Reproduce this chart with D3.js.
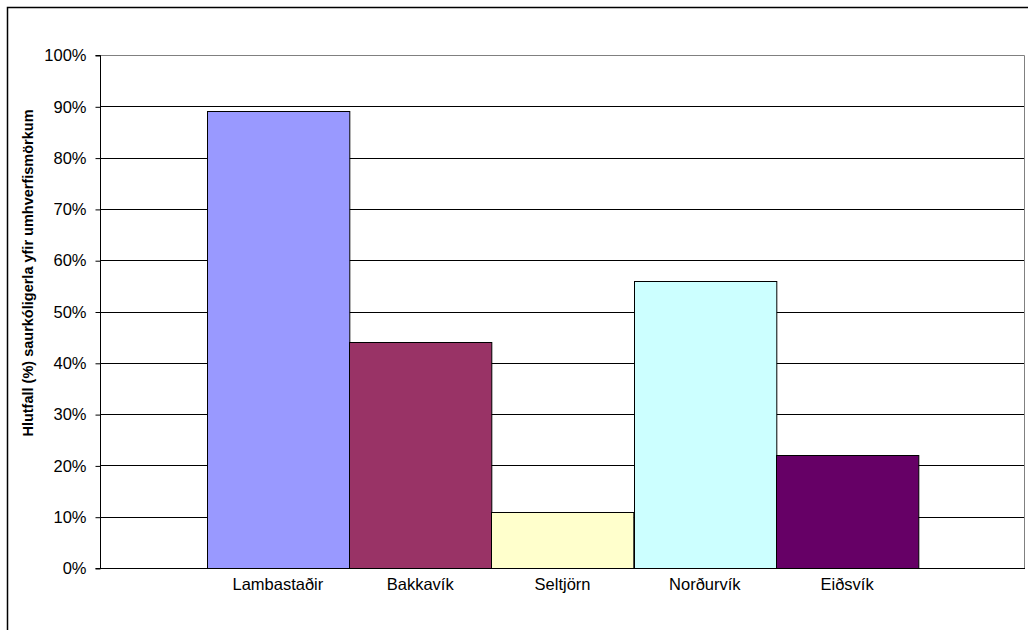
<!DOCTYPE html>
<html>
<head>
<meta charset="utf-8">
<script src="https://cdn.jsdelivr.net/npm/d3@7"></script>
<style>
  body { margin: 0; background: #fff; }
  svg { display: block; font-family: "Liberation Sans", Arial, sans-serif; }
</style>
</head>
<body>
<div id="chart"></div>
<script>
// stöðvar og hlutfall
const sites = ['Lambastaðir', 'Bakkavík', 'Seltjörn', 'Norðurvík', 'Eiðsvík'];
const values = [0.89, 0.44, 0.11, 0.56, 0.22];
const barColors = ['#9999FF', '#993366', '#FFFFCC', '#CCFFFF', '#660066'];
const yTicks = [0, 0.1, 0.2, 0.3, 0.4, 0.5, 0.6, 0.7, 0.8, 0.9, 1];
const yLabel = 'Hlutfall (%) saurkóligerla yfir umhverfismörkum';

const width = 1028, height = 630;
const margin = { top: 55, right: 3, bottom: 62, left: 100 };
const font = '"Liberation Sans", Arial, sans-serif';

const svg = d3.select('#chart').append('svg')
    .attr('width', width)
    .attr('height', height);

// ytri rammi
svg.append('rect')
    .attr('x', 7.5).attr('y', 7.5)
    .attr('width', width + 10).attr('height', height + 10)
    .attr('fill', 'none')
    .attr('stroke', '#000')
    .attr('stroke-width', 1.5);

const x = d3.scaleBand()
    .domain(sites)
    .range([margin.left, width - margin.right])
    .paddingInner(0)
    .paddingOuter(0.75);

const y = d3.scaleLinear()
    .domain([0, 1])
    .range([height - margin.bottom, margin.top]);

const x0 = margin.left, x1 = width - margin.right;

// gridlines
svg.append('g')
    .selectAll('line')
    .data(yTicks.filter(d => d > 0 && d < 1))
    .join('line')
    .attr('x1', x0).attr('x2', x1)
    .attr('y1', d => Math.round(y(d)) + 0.5)
    .attr('y2', d => Math.round(y(d)) + 0.5)
    .attr('stroke', '#000');

// plot area border (top/right gray)
svg.append('path')
    .attr('d', `M${x0},${Math.round(y(1)) + 0.5}H${x1 - 0.5}V${Math.round(y(0)) + 0.5}`)
    .attr('fill', 'none')
    .attr('stroke', '#808080');

// bars
svg.append('g')
    .selectAll('rect')
    .data(values)
    .join('rect')
    .attr('x', (d, i) => Math.round(x(sites[i])) + 0.5)
    .attr('y', d => Math.round(y(d)) + 0.5)
    .attr('width', x.bandwidth())
    .attr('height', d => Math.round(y(0)) - Math.round(y(d)))
    .attr('fill', (d, i) => barColors[i])
    .attr('stroke', '#000')
    .attr('stroke-width', 1);

// y axis
const yAxis = d3.axisLeft(y)
    .tickValues(yTicks)
    .tickFormat(d3.format('.0%'))
    .tickSize(5)
    .tickPadding(9);

svg.append('g')
    .attr('transform', `translate(${x0 + 0.5},0.5)`)
    .call(yAxis)
    .call(g => g.selectAll('.tick text')
        .attr('font-size', 16.5)
        .attr('fill', '#000')
        .attr('font-family', font))
    .call(g => g.select('.domain').attr('d', `M-5,${margin.top}H0V${height - margin.bottom}H-5`));

// x axis
const xAxis = d3.axisBottom(x).tickSize(0).tickPadding(10);
svg.append('g')
    .attr('transform', `translate(0,${Math.round(y(0)) + 0.5})`)
    .call(xAxis)
    .call(g => g.select('.domain').attr('d', `M${x0},0H${x1}`).attr('stroke', '#000'))
    .call(g => g.selectAll('.tick text')
        .attr('font-size', 16.5)
        .attr('fill', '#000')
        .attr('font-family', font));

// y label
svg.append('text')
    .attr('transform', `translate(33,273) rotate(-90)`)
    .attr('text-anchor', 'middle')
    .attr('font-size', 14.5)
    .attr('font-weight', 'bold')
    .text(yLabel);
</script>
</body>
</html>
